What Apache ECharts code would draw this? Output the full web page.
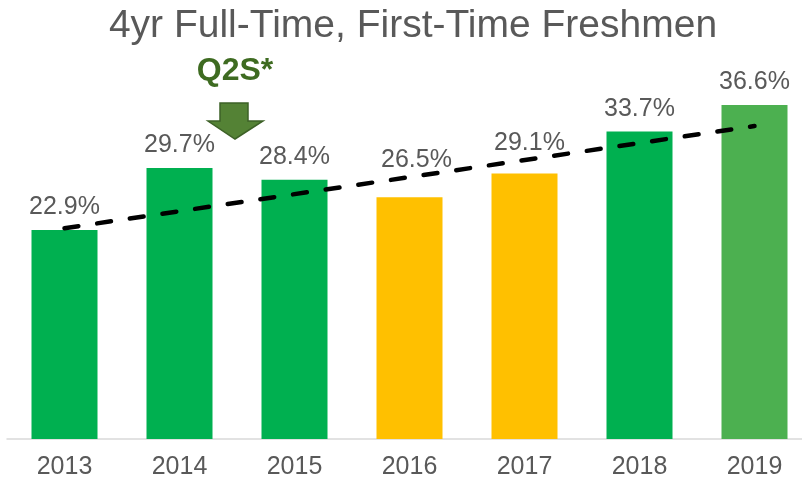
<!DOCTYPE html>
<html>
<head>
<meta charset="utf-8">
<script src="https://cdn.jsdelivr.net/npm/echarts@6/dist/echarts.min.js"></script>
<style>
  html, body { margin: 0; padding: 0; background: #fff; }
  #main { width: 802px; height: 483px; }
</style>
</head>
<body>
<div id="main"></div>
<script>
  // data
  var years = ['2013', '2014', '2015', '2016', '2017', '2018', '2019'];
  var rates = [22.9, 29.7, 28.4, 26.5, 29.1, 33.7, 36.6];
  var barColors = ['#00B050', '#00B050', '#00B050', '#FFC000', '#FFC000', '#00B050', '#4CB050'];
  // dashed trend line, ends only
  var trend = [23.1, null, null, null, null, null, 34.3];

  var font = "'Liberation Sans', Arial, sans-serif";
  var chart = echarts.init(document.getElementById('main'));

  // 2016 / 2017 labels sit higher, clear of the trend line
  var labelShift = { 3: [7, -15], 4: [5, -8] };

  var option = {
    animation: false,
    backgroundColor: '#ffffff',
    title: {
      text: '4yr Full-Time, First-Time Freshmen',
      left: 408,
      textAlign: 'center',
      top: 2,
      textStyle: { fontFamily: font, fontSize: 39, fontWeight: 'normal', color: '#595959' }
    },
    grid: { left: 7, width: 805, top: 74, bottom: 44, outerBoundsMode: 'none' },
    xAxis: {
      type: 'category',
      data: years,
      axisTick: { show: false },
      axisLine: { lineStyle: { color: '#D9D9D9', width: 1.5 } },
      axisLabel: { fontFamily: font, fontSize: 25, color: '#595959', margin: 16 }
    },
    yAxis: {
      type: 'value',
      min: 0,
      max: 40,
      show: false
    },
    series: [
      {
        type: 'bar',
        barWidth: 66,
        z: 2,
        data: rates.map(function (v, i) {
          var item = { value: v, itemStyle: { color: barColors[i] } };
          if (labelShift[i]) item.label = { offset: labelShift[i] };
          return item;
        }),
        label: {
          show: true,
          position: 'top',
          distance: 10,
          formatter: '{c}%',
          fontFamily: font,
          fontSize: 25,
          color: '#595959'
        }
      },
      {
        type: 'line',
        data: trend,
        connectNulls: true,
        symbol: 'none',
        z: 5,
        lineStyle: { color: '#000000', width: 4.5, type: [14, 19], cap: 'round' }
      }
    ],
    graphic: [
      {
        type: 'text',
        x: 235,
        y: 71,
        style: {
          text: 'Q2S*',
          fontFamily: font,
          fontSize: 32,
          fontWeight: 'bold',
          fill: '#3E6B21',
          align: 'center',
          verticalAlign: 'middle'
        }
      },
      {
        type: 'polygon',
        shape: {
          points: [[220, 103], [248, 103], [248, 121], [263, 121], [235, 139], [208, 121], [220, 121]]
        },
        style: { fill: '#548235', stroke: '#3D6127', lineWidth: 1.5 }
      }
    ]
  };

  chart.setOption(option);
</script>
</body>
</html>
